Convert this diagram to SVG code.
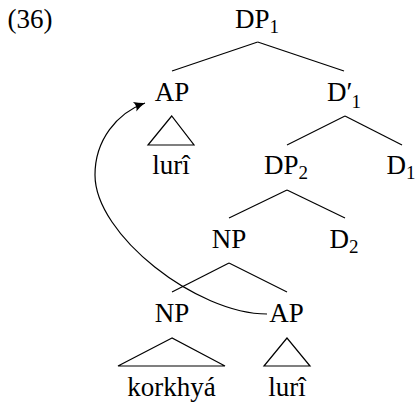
<svg xmlns="http://www.w3.org/2000/svg" width="417" height="406" viewBox="0 0 417 406">
<style>
.t{font-family:"Liberation Serif","Times New Roman",serif;font-size:27px;fill:#000;text-anchor:middle}
.s{font-size:19px}
.e{stroke:#000;stroke-width:1.2;fill:none}
.tri{stroke:#000;stroke-width:1.2;fill:none;stroke-linejoin:miter}
</style>
<defs>
<marker id="ah" markerUnits="userSpaceOnUse" markerWidth="16" markerHeight="12" viewBox="-12 -6 14 12" refX="0" refY="0" orient="auto">
<path d="M-11 -5 Q-5 -1.5 0 0 Q-5 1.5 -11 5 Q-8 0 -11 -5 Z" fill="#000"/>
</marker>
</defs>
<rect width="417" height="406" fill="#fff"/>
<text class="t" x="30" y="28">(36)</text>
<g id="connectors">
<line class="e" x1="257.7" y1="42" x2="172" y2="71"/>
<line class="e" x1="257.7" y1="42" x2="344" y2="71"/>
<line class="e" x1="345" y1="116" x2="287" y2="145"/>
<line class="e" x1="345" y1="116" x2="402" y2="145"/>
<line class="e" x1="287" y1="190" x2="229" y2="218"/>
<line class="e" x1="287" y1="190" x2="345" y2="218"/>
<line class="e" x1="229" y1="263" x2="172" y2="292"/>
<line class="e" x1="229" y1="263" x2="287" y2="292"/>
<path class="tri" d="M171.7 116 L148 145 L194 145 Z"/>
<path class="tri" d="M172 338 L118 366 L225 366 Z"/>
<path class="tri" d="M287 338 L264 366 L310 366 Z"/>
<path class="e" d="M267 314 C197 314 95 235 95 175 C95 140 117 113 145 103" marker-end="url(#ah)"/>
</g>
<g id="DP1"><text class="t" x="257" y="28">DP<tspan class="s" dy="5">1</tspan></text></g>
<g id="AP1"><text class="t" x="172" y="101">AP</text></g>
<g id="Dbar1"><text class="t" x="344" y="101">D′<tspan class="s" dx="-1" dy="7">1</tspan></text></g>
<g id="luri1"><text class="t" x="171" y="174">lurî</text></g>
<g id="DP2"><text class="t" x="286" y="174">DP<tspan class="s" dy="5">2</tspan></text></g>
<g id="D1"><text class="t" x="401" y="174">D<tspan class="s" dy="5">1</tspan></text></g>
<g id="NP1"><text class="t" x="229" y="248">NP</text></g>
<g id="D2"><text class="t" x="344" y="248">D<tspan class="s" dy="5">2</tspan></text></g>
<g id="NP2"><text class="t" x="172" y="322">NP</text></g>
<g id="AP2"><text class="t" x="286.5" y="322">AP</text></g>
<g id="korkhya"><text class="t" x="171.5" y="396">korkhyá</text></g>
<g id="luri2"><text class="t" x="287" y="396">lurî</text></g>
</svg>
